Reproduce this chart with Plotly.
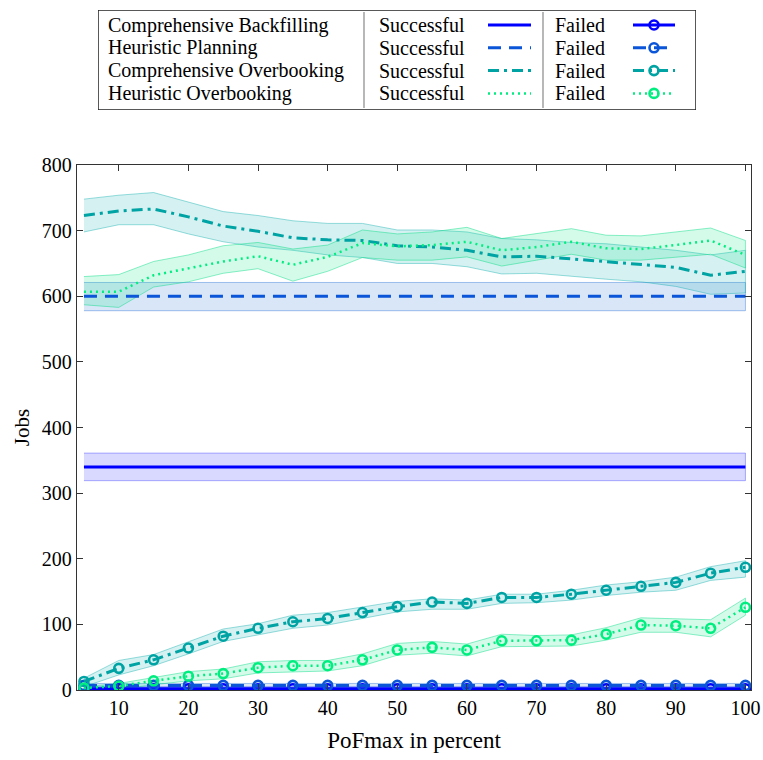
import plotly.graph_objects as go

# PoFmax values (percent)
pofmax = [5, 10, 15, 20, 25, 30, 35, 40, 45, 50, 55, 60, 65, 70, 75, 80, 85, 90, 95, 100]

# Comprehensive Backfilling
cb_succ = [340, 340, 340, 340, 340, 340, 340, 340, 340, 340, 340, 340, 340, 340, 340, 340, 340, 340, 340, 340]
cb_succ_lo = [319, 319, 319, 319, 319, 319, 319, 319, 319, 319, 319, 319, 319, 319, 319, 319, 319, 319, 319, 319]
cb_succ_hi = [361, 361, 361, 361, 361, 361, 361, 361, 361, 361, 361, 361, 361, 361, 361, 361, 361, 361, 361, 361]
cb_fail = [2, 2, 2, 2, 2, 2, 2, 2, 2, 2, 2, 2, 2, 2, 2, 2, 2, 2, 2, 2]
cb_fail_lo = [0, 0, 0, 0, 0, 0, 0, 0, 0, 0, 0, 0, 0, 0, 0, 0, 0, 0, 0, 0]
cb_fail_hi = [5, 5, 5, 5, 5, 5, 5, 5, 5, 5, 5, 5, 5, 5, 5, 5, 5, 5, 5, 5]

# Heuristic Planning
hp_succ = [600, 600, 600, 600, 600, 600, 600, 600, 600, 600, 600, 600, 600, 600, 600, 600, 600, 600, 600, 600]
hp_succ_lo = [578, 578, 578, 578, 578, 578, 578, 578, 578, 578, 578, 578, 578, 578, 578, 578, 578, 578, 578, 578]
hp_succ_hi = [621, 621, 621, 621, 621, 621, 621, 621, 621, 621, 621, 621, 621, 621, 621, 621, 621, 621, 621, 621]
hp_fail = [7, 7, 7, 7, 7, 7, 7, 7, 7, 7, 7, 7, 7, 7, 7, 7, 7, 7, 7, 7]
hp_fail_lo = [4, 4, 4, 4, 4, 4, 4, 4, 4, 4, 4, 4, 4, 4, 4, 4, 4, 4, 4, 4]
hp_fail_hi = [10, 10, 10, 10, 10, 10, 10, 10, 10, 10, 10, 10, 10, 10, 10, 10, 10, 10, 10, 10]

# Comprehensive Overbooking
co_succ = [723, 730, 733, 721, 707, 699, 689, 686, 685, 677, 675, 670, 660, 661, 657, 653, 649, 644, 632, 638]
co_succ_lo = [698, 709, 709, 695, 683, 675, 670, 663, 659, 650, 650, 645, 634, 635, 630, 626, 622, 615, 603, 605]
co_succ_hi = [748, 754, 758, 743, 729, 723, 715, 711, 711, 701, 701, 698, 688, 686, 682, 680, 675, 670, 663, 670]
co_fail = [13, 33, 46, 64, 82, 94, 104, 109, 118, 127, 134, 132, 141, 141, 146, 152, 158, 164, 178, 187]
co_fail_lo = [5, 23, 37, 55, 74, 84, 94, 99, 109, 119, 123, 123, 132, 133, 137, 144, 149, 152, 167, 172]
co_fail_hi = [18, 45, 54, 74, 93, 101, 114, 118, 127, 135, 139, 137, 146, 146, 152, 160, 165, 172, 188, 197]

# Heuristic Overbooking
ho_succ = [607, 607, 632, 642, 653, 661, 648, 660, 681, 676, 678, 683, 670, 675, 683, 673, 672, 678, 685, 663]
ho_succ_lo = [587, 583, 614, 622, 635, 642, 623, 638, 659, 655, 655, 660, 646, 655, 664, 655, 655, 659, 664, 643]
ho_succ_hi = [630, 633, 653, 663, 677, 682, 672, 678, 701, 695, 698, 705, 688, 696, 703, 693, 692, 698, 704, 685]
ho_fail = [3, 6, 14, 21, 25, 34, 37, 37, 46, 61, 65, 61, 75, 75, 76, 85, 99, 98, 94, 126]
ho_fail_lo = [0, 1, 8, 14, 17, 26, 28, 29, 37, 53, 56, 52, 66, 66, 67, 76, 88, 88, 81, 114]
ho_fail_hi = [5, 10, 19, 28, 32, 43, 45, 45, 55, 71, 74, 70, 85, 83, 84, 95, 110, 108, 107, 140]

strategies = ["Comprehensive Backfilling", "Heuristic Planning",
              "Comprehensive Overbooking", "Heuristic Overbooking"]
x_ticks = [10, 20, 30, 40, 50, 60, 70, 80, 90, 100]
y_ticks = [0, 100, 200, 300, 400, 500, 600, 700, 800]

FONT = "Liberation Serif, DejaVu Serif, serif"

styles = [
    dict(color="#0000ff", dash="solid", width=3,
         fill="rgba(0,0,255,0.15)", edge="rgba(0,0,255,0.30)"),
    dict(color="#0a55d8", dash="13px,8px", width=3,
         fill="rgba(0,90,210,0.15)", edge="rgba(0,90,210,0.35)"),
    dict(color="#00a3a3", dash="11px,5px,3px,5px", width=3,
         fill="rgba(0,170,170,0.16)", edge="rgba(0,170,170,0.40)"),
    dict(color="#00ee80", dash="2px,4px", width=2.5,
         fill="rgba(0,230,130,0.17)", edge="rgba(0,220,130,0.45)"),
]

series = [
    (cb_succ, cb_succ_lo, cb_succ_hi, cb_fail, cb_fail_lo, cb_fail_hi),
    (hp_succ, hp_succ_lo, hp_succ_hi, hp_fail, hp_fail_lo, hp_fail_hi),
    (co_succ, co_succ_lo, co_succ_hi, co_fail, co_fail_lo, co_fail_hi),
    (ho_succ, ho_succ_lo, ho_succ_hi, ho_fail, ho_fail_lo, ho_fail_hi),
]

fig = go.Figure()

# Uncertainty bands
for st, (s, slo, shi, f, flo, fhi) in zip(styles, series):
    for lo, hi in ((slo, shi), (flo, fhi)):
        fig.add_trace(go.Scatter(
            x=pofmax + pofmax[::-1], y=hi + lo[::-1],
            fill="toself", fillcolor=st["fill"], mode="lines",
            line=dict(color=st["edge"], width=1), hoverinfo="skip",
            showlegend=False))

# Mean lines: successful and failed jobs
for st, (s, slo, shi, f, flo, fhi) in zip(styles, series):
    fig.add_trace(go.Scatter(
        x=pofmax, y=s, mode="lines",
        line=dict(color=st["color"], dash=st["dash"], width=st["width"]),
        showlegend=False))
for st, (s, slo, shi, f, flo, fhi) in zip(styles, series):
    fig.add_trace(go.Scatter(
        x=pofmax, y=f, mode="lines+markers",
        line=dict(color=st["color"], dash=st["dash"], width=st["width"]),
        marker=dict(symbol="circle-open", size=9, color=st["color"],
                    line=dict(width=2.6, color=st["color"])),
        showlegend=False))

# Table-style legend drawn on its own pixel-scaled axes
row_y = [25, 47.8, 70.6, 93.4]
annotations = []
for i, (name, st) in enumerate(zip(strategies, styles)):
    y = row_y[i]
    for tx, label in ((106, name), (377, "Successful"), (553, "Failed")):
        annotations.append(dict(x=tx, y=y, xref="x2", yref="y2", text=label,
                                font=dict(size=20), showarrow=False,
                                xanchor="left", yanchor="middle"))
    fig.add_trace(go.Scatter(
        x=[488, 531], y=[y, y], xaxis="x2", yaxis="y2", mode="lines",
        line=dict(color=st["color"], dash=st["dash"], width=st["width"]),
        showlegend=False, hoverinfo="skip"))
    fig.add_trace(go.Scatter(
        x=[633, 675], y=[y, y], xaxis="x2", yaxis="y2", mode="lines",
        line=dict(color=st["color"], dash=st["dash"], width=st["width"]),
        showlegend=False, hoverinfo="skip"))
    fig.add_trace(go.Scatter(
        x=[654], y=[y], xaxis="x2", yaxis="y2", mode="markers",
        marker=dict(symbol="circle-open", size=9, color=st["color"],
                    line=dict(width=2.6, color=st["color"])),
        showlegend=False, hoverinfo="skip"))

shapes = [
    dict(type="rect", xref="x2", yref="y2", x0=98, x1=696, y0=10, y1=110,
         line=dict(color="#222222", width=1.5), layer="below"),
    dict(type="line", xref="x2", yref="y2", x0=364, x1=364, y0=12, y1=108,
         line=dict(color="#888888", width=1.2)),
    dict(type="line", xref="x2", yref="y2", x0=543, x1=543, y0=12, y1=108,
         line=dict(color="#888888", width=1.2)),
]

fig.update_layout(
    width=763, height=760,
    margin=dict(l=77, r=12, t=10, b=70, autoexpand=False),
    paper_bgcolor="white", plot_bgcolor="white",
    font=dict(family=FONT, size=20, color="black"),
    annotations=annotations, shapes=shapes,
    xaxis=dict(range=[4, 100.8], tickvals=x_ticks, ticks="inside", ticklen=6,
               mirror="ticks", showline=True, linecolor="#333333", linewidth=1.3,
               tickcolor="#333333", showgrid=False, zeroline=False,
               automargin=False,
               title=dict(text="PoFmax in percent", font=dict(size=23), standoff=13),
               domain=[0, 1]),
    yaxis=dict(range=[0, 800], tickvals=y_ticks, ticks="inside", ticklen=6,
               mirror="ticks", showline=True, linecolor="#333333", linewidth=1.3,
               tickcolor="#333333", showgrid=False, zeroline=False,
               automargin=False,
               title=dict(text="Jobs", font=dict(size=21), standoff=6),
               domain=[0, 525 / 680]),
    xaxis2=dict(domain=[(98 - 77) / 674, (696 - 77) / 674], range=[98, 696],
                visible=False, anchor="y2", fixedrange=True, automargin=False),
    yaxis2=dict(domain=[(690 - 110) / 680, 1.0], range=[110, 10],
                visible=False, anchor="x2", fixedrange=True, automargin=False),
)

fig.write_html("out.html")
